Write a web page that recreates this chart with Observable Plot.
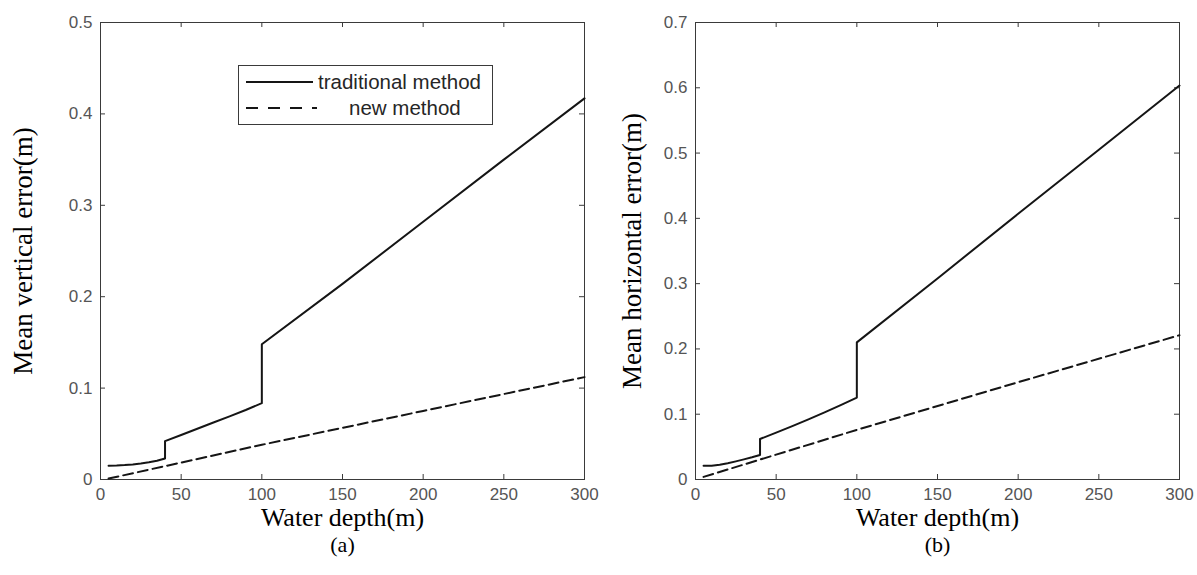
<!DOCTYPE html>
<html><head><meta charset="utf-8">
<script src="https://cdn.jsdelivr.net/npm/d3@7"></script>
<script src="https://cdn.jsdelivr.net/npm/@observablehq/plot@0.6"></script>
<style>
body{margin:0;background:#fff;}
#wrap{position:relative;width:1197px;height:575px;display:flex;overflow:hidden;}
#wrap svg{display:block;}
#legend{position:absolute;left:238px;top:65px;}
</style></head><body><div id="wrap"></div><script>
// ---- data ----
const xTicks = [0, 50, 100, 150, 200, 250, 300];
const yTicksA = [0, 0.1, 0.2, 0.3, 0.4, 0.5];
const yTicksB = [0, 0.1, 0.2, 0.3, 0.4, 0.5, 0.6, 0.7];

const depthTrad = [5, 10, 15, 20, 25, 30, 35, 40, 40, 50, 60, 70, 80, 90, 100, 100, 150, 200, 250, 300];
const tradA = [0.015, 0.0153, 0.0158, 0.0165, 0.0175, 0.0188, 0.0205, 0.023, 0.042, 0.0487, 0.0555, 0.0623, 0.069, 0.076, 0.0835, 0.148, 0.214, 0.282, 0.350, 0.417];
const tradB = [0.021, 0.0212, 0.0225, 0.025, 0.0278, 0.0308, 0.034, 0.0375, 0.062, 0.0718, 0.0818, 0.0922, 0.1028, 0.114, 0.1255, 0.210, 0.308, 0.407, 0.505, 0.6035];

const depthNew = [5, 100, 200, 300];
const newA = [0.001, 0.038, 0.075, 0.112];
const newB = [0.004, 0.076, 0.149, 0.221];

const xTitle = "Water depth(m)";
const yTitleA = "Mean vertical error(m)";
const yTitleB = "Mean horizontal error(m)";
const tagA = "(a)", tagB = "(b)";
const legendLabels = ["traditional method", "new method"];

// ---- drawing ----
const serif = "'Liberation Serif', 'Times New Roman', serif";
function panel({width, marginLeft, marginRight, ymax, yTicks, trad, nw, yTitle, tag, ydx}) {
  const H = 575 - 22 - 96;
  const W = width - marginLeft - marginRight;
  const tradRows = depthTrad.map((d, i) => ({x: d, y: trad[i]}));
  const newRows = depthNew.map((d, i) => ({x: d, y: nw[i]}));
  return Plot.plot({
    width, height: 575, marginLeft, marginRight, marginTop: 22, marginBottom: 96,
    x: {domain: [0, 300]},
    y: {domain: [0, ymax]},
    style: {fontFamily: "'Liberation Sans', Arial, sans-serif", fontSize: "17px", color: "#555", background: "transparent", overflow: "visible"},
    marks: [
      Plot.frame({stroke: "#3a3a3a", strokeWidth: 1}),
      Plot.tickX(xTicks, {x: d => d, insetTop: H - 5, stroke: "#3a3a3a"}),
      Plot.tickX(xTicks, {x: d => d, insetBottom: H - 5, stroke: "#3a3a3a"}),
      Plot.tickY(yTicks, {y: d => d, insetRight: W - 5, stroke: "#3a3a3a"}),
      Plot.tickY(yTicks, {y: d => d, insetLeft: W - 5, stroke: "#3a3a3a"}),
      Plot.axisX(xTicks, {tickSize: 0, tickPadding: 8, label: null, tickFormat: d => String(d)}),
      Plot.axisY(yTicks, {tickSize: 0, tickPadding: 8, label: null, tickFormat: d => String(d)}),
      Plot.line(newRows, {x: "x", y: "y", stroke: "#151515", strokeWidth: 2, strokeDasharray: "10,5"}),
      Plot.line(tradRows, {x: "x", y: "y", stroke: "#151515", strokeWidth: 2}),
      Plot.text([xTitle], {text: d => d, frameAnchor: "bottom", textAnchor: "middle", dy: 46, fontFamily: serif, fontSize: 26, fill: "#000"}),
      Plot.text([tag], {text: d => d, frameAnchor: "bottom", textAnchor: "middle", dy: 72, fontFamily: serif, fontSize: 22, fill: "#000"}),
      Plot.text([yTitle], {text: d => d, frameAnchor: "left", textAnchor: "middle", dx: -ydx, rotate: -90, fontFamily: serif, fontSize: 27, fill: "#000"})
    ]
  });
}

const wrap = document.getElementById("wrap");
wrap.append(panel({width: 600, marginLeft: 100, marginRight: 16, ymax: 0.5, yTicks: yTicksA, trad: tradA, nw: newA, yTitle: yTitleA, tag: tagA, ydx: 77}));
wrap.append(panel({width: 597, marginLeft: 95, marginRight: 18, ymax: 0.7, yTicks: yTicksB, trad: tradB, nw: newB, yTitle: yTitleB, tag: tagB, ydx: 63}));

// legend box inside panel (a)
const lg = d3.select(wrap).append("svg").attr("id", "legend").attr("width", 256).attr("height", 61)
  .style("font-family", "'Liberation Sans', Arial, sans-serif").style("font-size", "20.5px");
lg.append("rect").attr("x", 0.5).attr("y", 0.5).attr("width", 254).attr("height", 59).attr("fill", "#fff").attr("stroke", "#3a3a3a");
lg.append("line").attr("x1", 8).attr("x2", 75).attr("y1", 17).attr("y2", 17).attr("stroke", "#151515").attr("stroke-width", 2);
lg.append("line").attr("x1", 8).attr("x2", 79).attr("y1", 43).attr("y2", 43).attr("stroke", "#151515").attr("stroke-width", 2).attr("stroke-dasharray", "12,10");
lg.append("text").attr("x", 80).attr("y", 17).attr("dy", "0.35em").attr("fill", "#262626").text(legendLabels[0]);
lg.append("text").attr("x", 111).attr("y", 43).attr("dy", "0.35em").attr("fill", "#262626").text(legendLabels[1]);
</script></body></html>
